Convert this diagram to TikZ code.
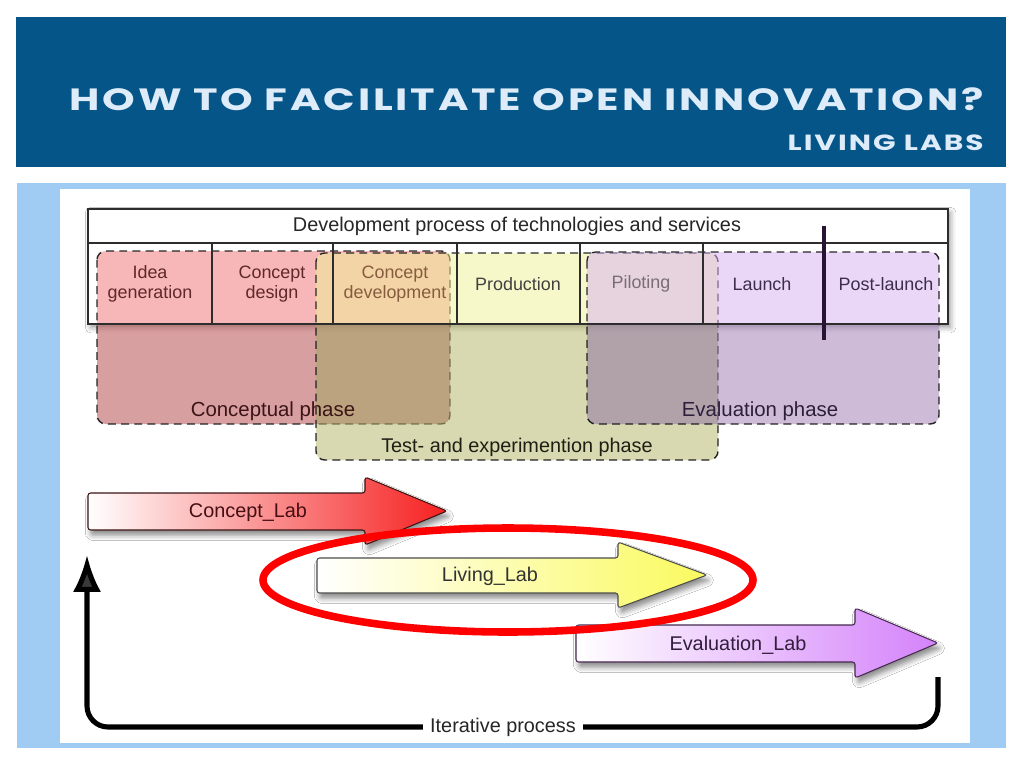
\documentclass[tikz,border=0pt]{standalone}
\usepackage{fontspec}
\setmainfont{Liberation Sans}
\newfontfamily\titelschrift[LetterSpace=9, FakeStretch=1.35]{Poppins}
\usetikzlibrary{arrows.meta, shadows.blur}

\definecolor{kopfblau}{RGB}{5,85,137}
\definecolor{rahmenblau}{RGB}{160,204,244}
\definecolor{titeltext}{RGB}{222,236,250}
\definecolor{konzeptrot}{RGB}{240,110,115}
\definecolor{testgelb}{RGB}{240,242,150}
\definecolor{evalviolett}{RGB}{215,175,241}
\definecolor{pfeilrot}{RGB}{246,32,32}
\definecolor{pfeilgelb}{RGB}{250,250,95}
\definecolor{pfeilviolett}{RGB}{212,130,250}
\definecolor{linie}{RGB}{45,45,45}
\definecolor{textrot}{RGB}{95,40,42}
\definecolor{textbraun}{RGB}{135,92,62}
\definecolor{textgrau}{RGB}{120,110,115}
\definecolor{textviolett}{RGB}{60,45,75}
\definecolor{balken}{RGB}{40,20,50}
\definecolor{phaserot}{RGB}{60,20,22}
\definecolor{phaseviolett}{RGB}{45,30,60}
\definecolor{phaseoliv}{RGB}{30,30,20}
\definecolor{randrot}{RGB}{60,20,20}
\definecolor{randviolett}{RGB}{70,40,80}
\definecolor{laborrot}{RGB}{70,15,20}
\definecolor{laborviolett}{RGB}{50,30,60}

\begin{document}
\begin{tikzpicture}[x=0.02cm, y=-0.02cm,
	phase/.style={draw=black!85, dash pattern=on 4.5pt off 3pt, line width=0.8pt, rounded corners=5pt, fill opacity=0.5},
	zelle/.style={font=\fontsize{10.2}{11.3}\selectfont, align=center},
	phasentext/.style={font=\fontsize{11.6}{13}\selectfont},
	labortext/.style={font=\fontsize{11.3}{13}\selectfont},
	laborpfeil/.style={line width=0.6pt, rounded corners=1.5pt, blur shadow={shadow xshift=1.5pt, shadow yshift=-3pt, shadow blur radius=3pt, shadow opacity=45}},
	schleife/.style={line width=2.9pt, rounded corners=12pt}]
\useasboundingbox (0,0) rectangle (1024,768);

% Zeichnet den Kopfbalken mit Titel
\fill[kopfblau] (16,17) rectangle (1006,167);
\node[anchor=base east, text=titeltext, inner sep=0pt, font=\titelschrift\bfseries\fontsize{17.5}{20}\selectfont] (titel) at (984,110) {HOW TO FACILITATE OPEN INNOVATION?};
\node[anchor=base east, text=titeltext, inner sep=0pt, font=\titelschrift\bfseries\fontsize{12.5}{15}\selectfont] (untertitel) at (984,150) {LIVING LABS};

% Zeichnet den hellblauen Rahmen und die weisse Flaeche
\fill[rahmenblau] (17,183) rectangle (1006,748);
\fill[white] (60,189) rectangle (970,743);

% Zeichnet den Hintergrund der Tabelle
\fill[white, blur shadow={shadow xshift=1.5pt, shadow yshift=-2pt, shadow blur radius=3pt, shadow opacity=40}] (88,209) rectangle (948,324);

% Zeichnet die drei Phasen
\path[phase, fill=konzeptrot] (97,251) rectangle (450,424);
\path[phase, fill=testgelb] (316,253) rectangle (718,460);
\path[phase, fill=evalviolett] (587,252) rectangle (939,424);

% Dunkelt die Phasen unter der Tabelle ab
\begin{scope}
	\clip (60,325) rectangle (970,470);
	\fill[black, opacity=0.12, rounded corners=5pt] (97,251) rectangle (450,424);
	\fill[black, opacity=0.12, rounded corners=5pt] (316,253) rectangle (718,460);
	\fill[black, opacity=0.12, rounded corners=5pt] (587,252) rectangle (939,424);
\end{scope}

% Zeichnet die Linien der Tabelle
\draw[linie, line width=0.9pt] (88,209) rectangle (948,324);
\draw[linie, line width=0.7pt] (88,243) -- (948,243);
\foreach \sx in {212,333,457,580,703}
	\draw[linie, line width=0.7pt] (\sx,243) -- (\sx,324);

% Beschriftet die Tabelle
\node[font=\fontsize{11.3}{13}\selectfont, text=black!85] (kopf) at (517,226) {Development process of technologies and services};
\node[zelle, text=textrot] (idee) at (150,284) {Idea\\generation};
\node[zelle, text=textrot] (kdesign) at (272,284) {Concept\\design};
\node[zelle, text=textbraun] (kentw) at (395,284) {Concept\\development};
\node[zelle, text=black!75] (prod) at (518,284) {Production};
\node[zelle, text=textgrau] (pilot) at (641,284) {Piloting};
\node[zelle, text=textviolett] (launch) at (762,284) {Launch};
\node[zelle, text=textviolett] (postl) at (886,284) {Post-launch};

% Zeichnet den senkrechten Balken zwischen Launch und Post-launch
\draw[line width=2.8pt, balken] (824,226) -- (824,340);

% Beschriftet die Phasen
\node[phasentext, text=phaserot] (konzeptphase) at (273,411) {Conceptual phase};
\node[phasentext, text=phaseviolett] (evalphase) at (760,411) {Evaluation phase};
\node[labortext, text=phaseoliv] (testphase) at (517,447) {Test- and experimention phase};

% Zeichnet Pfeil Concept_Lab
\draw[laborpfeil, draw=randrot, left color=white, right color=pfeilrot]
	(88,493) -- (365,493) -- (365,477) -- (447,511) -- (365,545) -- (365,530) -- (88,530) -- cycle;
\node[labortext, text=laborrot] (conceptlab) at (248,512) {Concept\_Lab};

% Zeichnet Pfeil Living_Lab
\draw[laborpfeil, draw=black!70, left color=white, right color=pfeilgelb]
	(317,558) -- (618,558) -- (618,542) -- (707,575) -- (618,608) -- (618,593) -- (317,593) -- cycle;
\node[labortext, text=black!80] (livinglab) at (490,576) {Living\_Lab};

% Zeichnet Pfeil Evaluation_Lab
\draw[laborpfeil, draw=randviolett, left color=white, right color=pfeilviolett]
	(576,625) -- (855,625) -- (855,608) -- (938,643) -- (855,678) -- (855,662) -- (576,662) -- cycle;
\node[labortext, text=laborviolett] (evallab) at (738,645) {Evaluation\_Lab};

% Zeichnet die rote Ellipse um Living_Lab
\draw[line width=4.3pt, red] (508,580) ellipse [x radius=245, y radius=52];

% Zeichnet den iterativen Prozess
\node[labortext, text=black!85, inner sep=4pt] (iter) at (503,727) {Iterative process};
\coordinate (schleifeL) at (87,555);
\coordinate (schleifeR) at (938,677);
\draw[schleife, -{Latex[length=21pt, width=16pt]}] (iter.west) -| (schleifeL);
\draw[schleife] (iter.east) -| (schleifeR);

\end{tikzpicture}
\end{document}
